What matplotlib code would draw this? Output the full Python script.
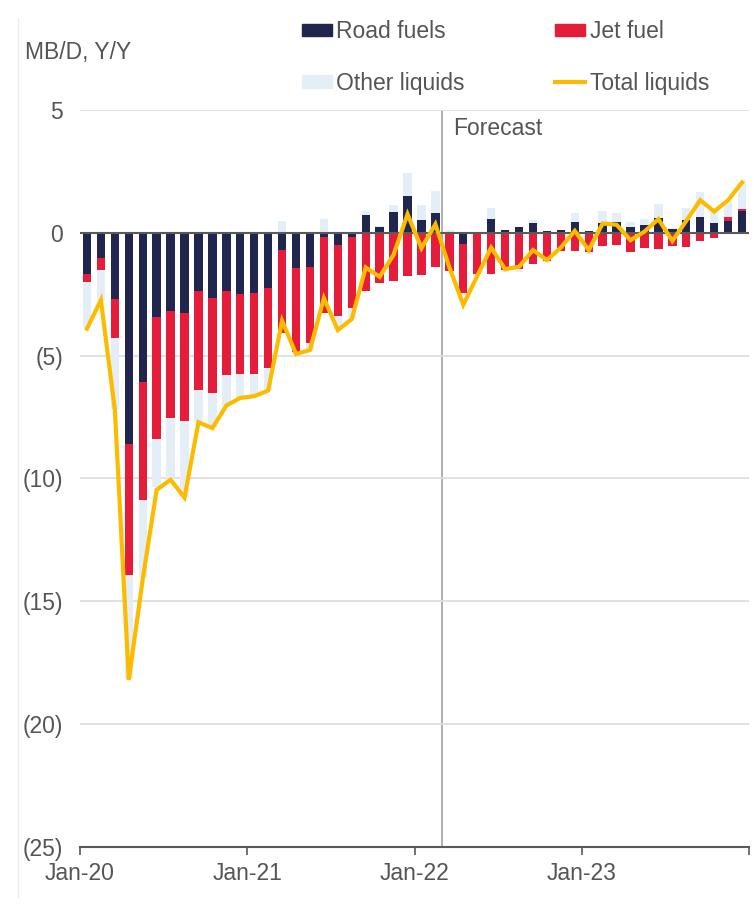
import numpy as np
import matplotlib.pyplot as plt
from matplotlib.lines import Line2D
from matplotlib.patches import Patch

plt.rcParams['font.family'] = ['Liberation Sans', 'DejaVu Sans']

# monthly y/y change, Jan-20 .. Dec-23 (MB/D)
months = [f"{m}-{y}" for y in range(20, 24) for m in
          ['Jan', 'Feb', 'Mar', 'Apr', 'May', 'Jun', 'Jul', 'Aug', 'Sep', 'Oct', 'Nov', 'Dec']]

road_fuels = [-1.67, -1.03, -2.71, -8.60, -6.08, -3.41, -3.17, -3.27, -2.36, -2.64, -2.36, -2.47,
              -2.43, -2.26, -0.69, -1.44, -1.41, -0.16, -0.49, -0.16, 0.73, 0.24, 0.83, 1.50,
              0.51, 0.80, 0.05, -0.46, 0.00, 0.56, 0.10, 0.22, 0.42, 0.08, 0.10, 0.46,
              0.08, 0.41, 0.43, 0.22, 0.31, 0.62, 0.16, 0.53, 0.66, 0.41, 0.49, 0.89]

jet_fuel = [-0.33, -0.50, -1.56, -5.34, -4.81, -4.98, -4.36, -4.37, -4.02, -3.89, -3.43, -3.26,
            -3.31, -3.24, -3.38, -3.42, -3.09, -3.11, -2.88, -2.92, -2.36, -2.05, -1.95, -1.75,
            -1.72, -1.41, -1.57, -1.97, -1.68, -1.68, -1.50, -1.46, -1.27, -1.14, -0.73, -0.73,
            -0.80, -0.53, -0.49, -0.76, -0.60, -0.65, -0.53, -0.57, -0.35, -0.22, 0.14, 0.07]

other_liquids = [-1.86, -1.25, -2.91, -4.24, -3.18, -1.96, -2.47, -3.12, -1.33, -1.42, -1.24, -0.99,
                 -0.95, -0.92, 0.49, -0.07, -0.30, 0.58, -0.55, -0.37, 0.16, 0.04, 0.31, 0.95,
                 0.63, 0.91, 0.05, -0.10, -0.05, 0.47, -0.08, -0.12, 0.10, -0.05, 0.03, 0.33,
                 -0.05, 0.46, 0.39, 0.24, 0.27, 0.57, 0.05, 0.47, 1.01, 0.60, 0.67, 1.09]

total_liquids = [-3.90, -2.74, -7.20, -18.20, -14.10, -10.46, -10.05, -10.78, -7.71, -7.95, -7.03, -6.72,
                 -6.65, -6.42, -3.58, -4.93, -4.77, -2.66, -3.96, -3.51, -1.41, -1.79, -0.89, 0.76,
                 -0.62, 0.35, -1.40, -2.93, -1.76, -0.60, -1.48, -1.38, -0.70, -1.11, -0.60, 0.08,
                 -0.70, 0.38, 0.33, -0.30, 0.05, 0.56, -0.33, 0.49, 1.33, 0.87, 1.33, 2.05]

xtick_labels = ['Jan-20', 'Jan-21', 'Jan-22', 'Jan-23', '']
forecast_start = 26  # boundary before Mar-22

NAVY = '#21264f'
RED = '#e61d3a'
LIGHT = '#e3eef6'
GOLD = '#fdbb00'
TXT = '#555555'

fig = plt.figure(figsize=(7.54, 9.15), dpi=100)
ax = fig.add_axes([80 / 754, 1 - 847 / 915, 669 / 754, 737 / 915])

x = np.arange(len(months)) + 0.5
pos = np.zeros(len(months))
neg = np.zeros(len(months))
for vals, col in [(road_fuels, NAVY), (jet_fuel, RED), (other_liquids, LIGHT)]:
    v = np.array(vals)
    bottom = np.where(v >= 0, pos, neg)
    ax.bar(x, v, bottom=bottom, width=0.6, color=col, zorder=2)
    pos = pos + np.where(v >= 0, v, 0)
    neg = neg + np.where(v < 0, v, 0)

ax.plot(x, total_liquids, color=GOLD, lw=3, zorder=4, solid_joinstyle='miter')

ax.set_xlim(0, len(months))
ax.set_ylim(-25, 5)
ax.set_yticks(range(-25, 6, 5))
ax.set_yticklabels([f"({abs(v)})" if v < 0 else str(v) for v in range(-25, 6, 5)])
ax.set_xticks(range(0, 49, 12))
ax.set_xticklabels(xtick_labels)

ax.yaxis.grid(True, color='#dedede', lw=1.3, zorder=0)
ax.axhline(0, color='#5a5a5a', lw=1.5, zorder=3)
ax.axvline(forecast_start, color='#a8a8a8', lw=1.3, zorder=1)
ax.text(forecast_start + 0.8, 4.25, 'Forecast', fontsize=16.5, color=TXT, va='center', ha='left')

for s in ['left', 'right', 'top']:
    ax.spines[s].set_visible(False)
ax.spines['bottom'].set_color('#5a5a5a')
ax.spines['bottom'].set_linewidth(1.5)
ax.tick_params(axis='y', length=0, pad=12, labelsize=16.5, labelcolor=TXT)
ax.tick_params(axis='x', length=6, width=1.2, color='#5a5a5a', pad=5, labelsize=16.5, labelcolor=TXT)

fig.text(25 / 754, 1 - 53 / 915, 'MB/D, Y/Y', fontsize=16.5, color=TXT, va='center', ha='left')

# ncol=2 fills column by column: col 1 = Road fuels / Other liquids, col 2 = Jet fuel / Total liquids
handles = [Patch(color=NAVY), Patch(color=LIGHT), Patch(color=RED), Line2D([], [], color=GOLD, lw=3)]
labels = ['Road fuels', 'Other liquids', 'Jet fuel', 'Total liquids']
fig.legend(handles, labels, ncol=2, loc='upper left', bbox_to_anchor=(302 / 754, 1 - 20 / 915),
           frameon=False, fontsize=16.5, labelcolor=TXT, handlelength=1.3, handleheight=0.45,
           handletextpad=0.2, columnspacing=3.95, labelspacing=1.25, borderpad=0, borderaxespad=0)

fig.add_artist(Line2D([18 / 754, 18 / 754], [0.02, 0.98], color='#ececec', lw=1))

fig.savefig('out.png', dpi=100)
